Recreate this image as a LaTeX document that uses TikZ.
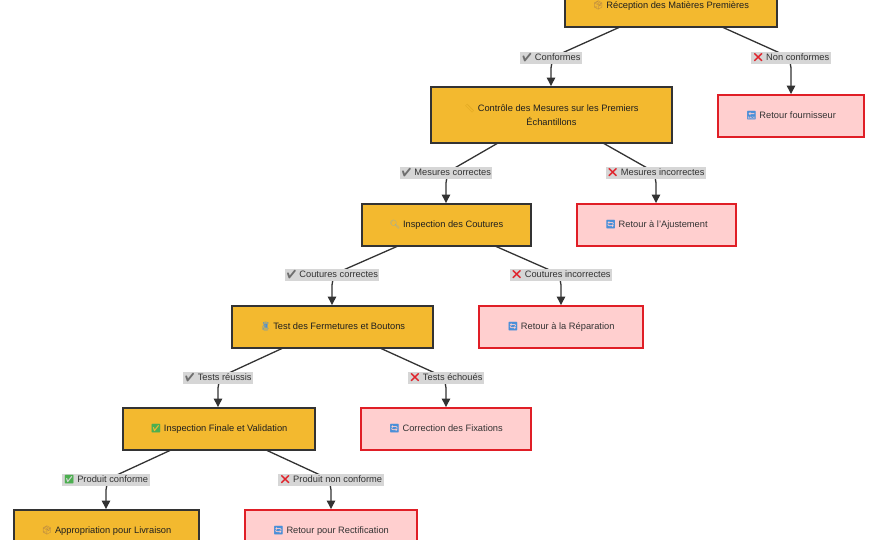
\documentclass[tikz,border=0pt]{standalone}
\usepackage{fontspec}
\setmainfont{Liberation Sans}
\newfontfamily\emo{Noto Emoji}
\usetikzlibrary{arrows.meta}
\definecolor{gold}{HTML}{F3B92F}
\definecolor{dark}{HTML}{333333}
\definecolor{redfill}{HTML}{FFCFCF}
\definecolor{redline}{HTML}{E01E26}
\definecolor{lblbg}{HTML}{D6D6D6}
\definecolor{icbrown}{HTML}{A0744A}
\definecolor{icred}{HTML}{E0242C}
\definecolor{icgreen}{HTML}{4CAF50}
\definecolor{icgray}{HTML}{6E6E6E}
\definecolor{icblue}{HTML}{4A8FD8}
\definecolor{icyellow}{HTML}{D9A21A}
\definecolor{icsky}{HTML}{7FA8C8}
\newcommand{\ic}[2]{{\color{#1}\emo\fontsize{8.5}{10}\selectfont #2}}
\tikzset{
  okbox/.style={draw=dark, line width=1.9pt, fill=gold, minimum height=42pt, inner sep=0pt, align=center, text=black!88, font=\fontsize{9.3}{14}\selectfont},
  kobox/.style={draw=redline, line width=1.9pt, fill=redfill, minimum height=42pt, inner sep=0pt, align=center, text=dark, font=\fontsize{9.3}{14}\selectfont},
  lbl/.style={fill=lblbg, inner xsep=1.5pt, inner ysep=1.8pt, text=dark, font=\fontsize{9.3}{11}\selectfont},
  edge/.style={draw=dark, line width=1.3pt, rounded corners=10pt, -{Triangle[length=8.5pt,width=8.5pt]}}
}
\begin{document}
\begin{tikzpicture}[x=1pt,y=-1pt]
\useasboundingbox (0,0) rectangle (880,540);
% main boxes
\node[okbox, minimum width=212pt] (b1) at (671,6) {\ic{icbrown}{📦} Réception des Matières Premières};
\node[okbox, minimum width=241pt, minimum height=56pt] (b2) at (551.5,115) {\ic{icyellow}{📏} Contrôle des Mesures sur les Premiers\\Échantillons};
\node[okbox, minimum width=169pt] (b3) at (446.5,225) {\ic{icsky}{🔍} Inspection des Coutures};
\node[okbox, minimum width=201pt] (b4) at (332.5,327) {\ic{icblue}{🧵} Test des Fermetures et Boutons};
\node[okbox, minimum width=192pt] (b5) at (219,429) {\ic{icgreen}{✅} Inspection Finale et Validation};
\node[okbox, minimum width=185pt] (b6) at (106.5,531) {\ic{icbrown}{📦} Appropriation pour Livraison};
% reject boxes
\node[kobox, minimum width=146pt] (r1) at (791,116) {\ic{icblue}{🔙} Retour fournisseur};
\node[kobox, minimum width=159pt] (r2) at (656.5,225) {\ic{icblue}{🔄} Retour à l'Ajustement};
\node[kobox, minimum width=164pt] (r3) at (561,327) {\ic{icblue}{🔄} Retour à la Réparation};
\node[kobox, minimum width=170pt] (r4) at (446,429) {\ic{icblue}{🔄} Correction des Fixations};
\node[kobox, minimum width=172pt] (r5) at (331,531) {\ic{icblue}{🔄} Retour pour Rectification};
% edge start points
\coordinate (s1a) at (620,27);  \coordinate (s1b) at (722,27);
\coordinate (s2a) at (498,143); \coordinate (s2b) at (603,143);
\coordinate (s3a) at (398,246); \coordinate (s3b) at (495,246);
\coordinate (s4a) at (283,348); \coordinate (s4b) at (380,348);
\coordinate (s5a) at (171,450); \coordinate (s5b) at (266,450);
% label anchors
\coordinate (p1) at (551,58);  \coordinate (p2) at (791,58);
\coordinate (p3) at (446,173); \coordinate (p4) at (656,173);
\coordinate (p5) at (332,275); \coordinate (p6) at (561,275);
\coordinate (p7) at (218,378); \coordinate (p8) at (446,378);
\coordinate (p9) at (106,480); \coordinate (p10) at (331,480);
% edges
\draw[edge] (s1a) -- (p1) -- (p1 |- b2.north);
\draw[edge] (s1b) -- (p2) -- (p2 |- r1.north);
\draw[edge] (s2a) -- (p3) -- (p3 |- b3.north);
\draw[edge] (s2b) -- (p4) -- (p4 |- r2.north);
\draw[edge] (s3a) -- (p5) -- (p5 |- b4.north);
\draw[edge] (s3b) -- (p6) -- (p6 |- r3.north);
\draw[edge] (s4a) -- (p7) -- (p7 |- b5.north);
\draw[edge] (s4b) -- (p8) -- (p8 |- r4.north);
\draw[edge] (s5a) -- (p9) -- (p9 |- b6.north);
\draw[edge] (s5b) -- (p10) -- (p10 |- r5.north);
% labels
\node[lbl] (l1) at (p1) {\ic{icgray}{✔} Conformes};
\node[lbl] (l2) at (p2) {\ic{icred}{❌} Non conformes};
\node[lbl] (l3) at (p3) {\ic{icgray}{✔} Mesures correctes};
\node[lbl] (l4) at (p4) {\ic{icred}{❌} Mesures incorrectes};
\node[lbl] (l5) at (p5) {\ic{icgray}{✔} Coutures correctes};
\node[lbl] (l6) at (p6) {\ic{icred}{❌} Coutures incorrectes};
\node[lbl] (l7) at (p7) {\ic{icgray}{✔} Tests réussis};
\node[lbl] (l8) at (p8) {\ic{icred}{❌} Tests échoués};
\node[lbl] (l9) at (p9) {\ic{icgreen}{✅} Produit conforme};
\node[lbl] (l10) at (p10) {\ic{icred}{❌} Produit non conforme};
\end{tikzpicture}
\end{document}
